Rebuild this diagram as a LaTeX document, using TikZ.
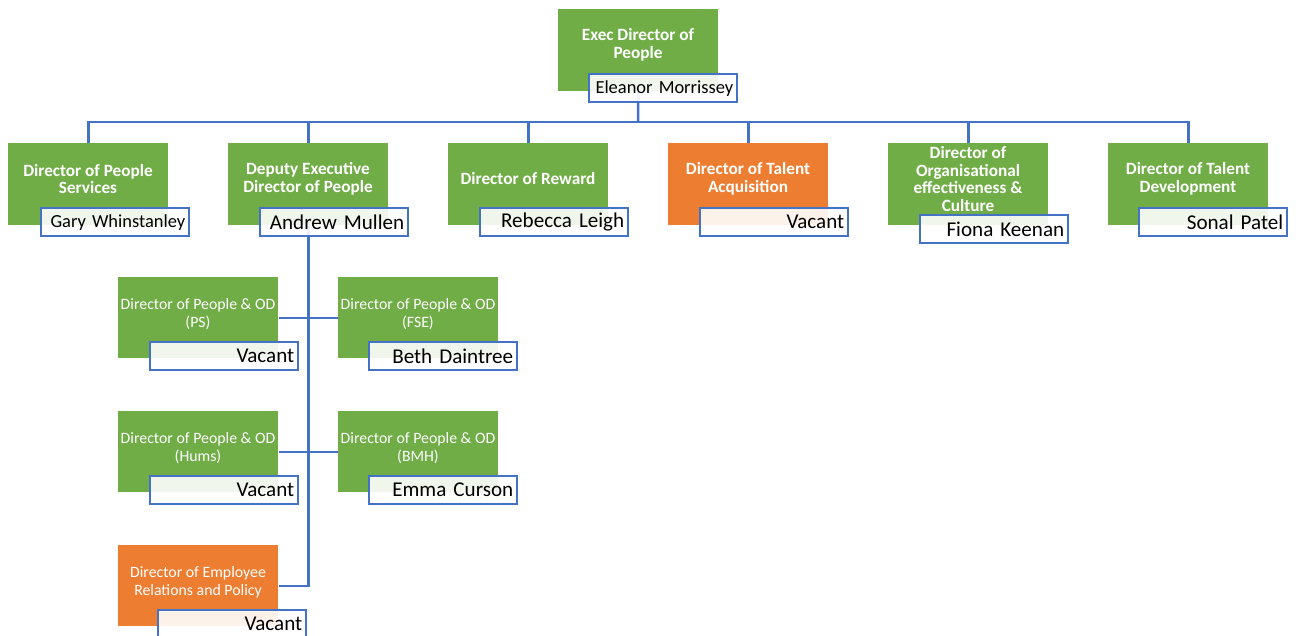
\documentclass[tikz,border=0pt]{standalone}
\usepackage{fontspec}
\setmainfont{Carlito}
\pgfdeclarelayer{background}
\pgfsetlayers{background,main}
\definecolor{grn}{HTML}{70AD47}
\definecolor{org}{HTML}{ED7D31}
\definecolor{blu}{HTML}{4472C4}
\begin{document}
\begin{tikzpicture}[x=0.02cm,y=-0.02cm,
  rbox/.style={anchor=north west, minimum width=3.2cm, minimum height=1.64cm, inner sep=0pt},
  rbox3/.style={rbox, minimum height=1.62cm},
  ttl/.style={text=white, font=\bfseries\fontsize{9.8}{10.1}\selectfont, align=center, inner sep=0pt},
  ttl3/.style={text=white, font=\fontsize{9}{10.2}\selectfont, align=center, inner sep=0pt},
  nbox/.style={anchor=north west, draw=blu, line width=1.4pt, fill=white, fill opacity=0.9, text opacity=1,
    text width=2.8cm, inner xsep=0.08cm, inner ysep=0pt, minimum height=0.56cm, align=right,
    font=\fontsize{12}{14}\selectfont},
  small/.style={font=\fontsize{10.5}{12}\selectfont},
  conn/.style={draw=blu, line width=1.4pt}]
\useasboundingbox (0,0) rectangle (1300,635);
% top
\node[rbox, fill=grn] (exec) at (558,9) {};
\node[ttl] (exec-t) at (638,45) {Exec Director of\\People};
\node[nbox, small] (exec-n) at (588,73) {Eleanor Morrissey};
% level 2
\node[rbox, fill=grn] (ps) at (8,143) {};
\node[ttl] (ps-t) at (88,179) {Director of People\\Services};
\node[nbox, small] (ps-n) at (40,207) {Gary Whinstanley};
\node[rbox, fill=grn] (dep) at (228,143) {};
\node[ttl] (dep-t) at (308,179) {Deputy Executive\\Director of People};
\node[nbox] (dep-n) at (259,207) {Andrew Mullen};
\node[rbox, fill=grn] (rew) at (448,143) {};
\node[ttl] (rew-t) at (528,179) {Director of Reward};
\node[nbox] (rew-n) at (479,207) {Rebecca Leigh};
\node[rbox, fill=org] (ta) at (668,143) {};
\node[ttl] (ta-t) at (748,179) {Director of Talent\\Acquisition};
\node[nbox] (ta-n) at (699,207) {Vacant};
\node[rbox, fill=grn] (oe) at (888,143) {};
\node[ttl] (oe-t) at (968,179) {Director of\\Organisational\\effectiveness \&\\Culture};
\node[nbox] (oe-n) at (919,214) {Fiona Keenan};
\node[rbox, fill=grn] (td) at (1108,143) {};
\node[ttl] (td-t) at (1188,179) {Director of Talent\\Development};
\node[nbox] (td-n) at (1138,207) {Sonal Patel};
% level 3
\node[rbox3, fill=grn] (pso) at (118,277) {};
\node[ttl3] (pso-t) at (198,314) {Director of People \& OD\\(PS)};
\node[nbox] (pso-n) at (149,341) {Vacant};
\node[rbox3, fill=grn] (fse) at (338,277) {};
\node[ttl3] (fse-t) at (418,314) {Director of People \& OD\\(FSE)};
\node[nbox] (fse-n) at (368,341) {Beth Daintree};
\node[rbox3, fill=grn] (hum) at (118,411) {};
\node[ttl3] (hum-t) at (198,448) {Director of People \& OD\\(Hums)};
\node[nbox] (hum-n) at (149,475) {Vacant};
\node[rbox3, fill=grn] (bmh) at (338,411) {};
\node[ttl3] (bmh-t) at (418,448) {Director of People \& OD\\(BMH)};
\node[nbox] (bmh-n) at (368,475) {Emma Curson};
\node[rbox3, fill=org] (er) at (118,545) {};
\node[ttl3] (er-t) at (198,582) {Director of Employee\\Relations and Policy};
\node[nbox] (er-n) at (157,609) {Vacant};
% connectors
\begin{pgfonlayer}{background}
\coordinate (bus) at (638,122);
\draw[conn] (exec.south) -- (bus);
\foreach \n in {ps,dep,rew,ta,oe,td}
  \draw[conn] (bus) -| (\n.north);
\draw[conn] (dep.south) |- (er.east);
\draw[conn] (pso.east) -- (fse.west);
\draw[conn] (hum.east) -- (bmh.west);
\end{pgfonlayer}
\end{tikzpicture}
\end{document}
